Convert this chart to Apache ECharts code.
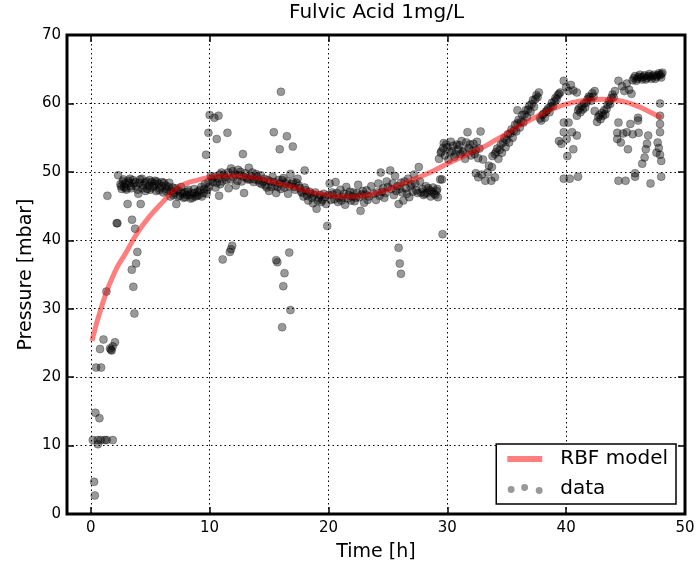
<!DOCTYPE html>
<html>
<head>
<meta charset="utf-8">
<script src="https://cdn.jsdelivr.net/npm/echarts@6/dist/echarts.min.js"></script>
<style>
  * { margin: 0; padding: 0; }
  body { background: #fff; }
</style>
</head>
<body>
<div id="chart" style="width: 697px; height: 562px;"></div>
<script>
// measured points [time h, pressure mbar]
var obsPoints = [
  [0.28,4.7],[0.34,2.7],[0.17,10.8],[0.59,10.8],[0.84,10.8],[1.18,10.8],[1.34,10.8],[1.85,10.8],[0.6,10.2],
  [0.39,14.8],[0.73,14.0],[0.45,21.4],[0.87,21.4],[1.07,25.5],[0.78,24.1],[1.62,24.2],[2.04,25.1],[1.76,23.9],
  [1.85,24.5],[1.7,24.0],[1.32,32.5],[3.67,29.3],[3.58,33.2],[3.45,35.7],[3.81,36.6],[3.92,38.3],[3.73,41.7],
  [3.47,43.0],[2.18,42.5],[2.24,42.5],[1.4,46.5],
  [2.3,49.5],[2.5,48.2],[2.6,47.5],[2.7,48.6],[2.8,47.8],[2.9,48.3],[3.0,47.4],[3.1,45.3],[3.2,48.4],[3.3,49.0],
  [3.4,47.6],[3.6,48.3],[3.8,47.9],[4.0,46.8],[4.1,48.4],[4.2,45.3],[4.3,49.0],[4.4,48.0],
  [4.6,47.2],[4.7,48.6],[4.9,48.0],[5.0,47.4],[5.1,48.5],[5.3,47.9],[5.4,48.7],[5.5,47.2],[5.7,48.3],[5.8,47.6],
  [6.0,48.5],[6.1,47.0],[6.3,48.0],[6.4,47.5],[6.6,48.4],[6.7,46.4],[6.9,47.7],[7.0,46.9],[7.2,45.3],[7.3,47.3],
  [7.5,46.5],[7.6,47.8],[7.8,46.2],[7.9,47.0],[8.1,46.6],[8.2,47.4],[8.4,46.1],[8.5,46.9],[8.7,47.5],[8.8,46.4],
  [9.0,47.1],[9.1,46.6],[9.3,47.8],[9.5,46.9],[9.6,48.2],[9.8,47.4],[9.9,48.5],
  [2.55,47.9],[2.75,48.9],[2.95,47.6],[3.15,48.7],[3.35,47.9],[3.55,48.8],[3.75,48.5],[3.95,47.4],[4.15,48.9],
  [4.35,47.6],[4.55,48.4],[4.75,47.5],[4.95,48.8],[5.15,47.7],[5.35,48.3],[5.55,48.6],[5.75,47.3],[5.95,47.9],
  [6.15,48.4],[6.35,47.2],[6.55,47.8],[6.75,47.2],[6.95,46.6],[7.15,47.6],[7.35,46.4],[7.55,47.1],[7.75,46.8],
  [7.95,46.3],[8.15,47.1],[8.35,46.6],[8.55,46.2],[8.75,46.9],[8.95,46.5],[9.15,47.3],[9.35,46.4],[9.55,47.5],
  [9.75,46.8],[9.95,47.8],
  [9.7,52.5],[9.9,55.7],[10.0,58.3],[10.4,57.9],[10.75,58.2],[10.6,54.8],[11.5,55.7],[12.8,52.6],
  [11.1,37.2],[11.8,38.7],[11.9,39.2],[11.7,38.3],
  [10.1,49.4],[10.3,48.5],[10.5,47.7],[10.7,49.0],[10.8,46.5],[10.9,48.2],[11.0,49.9],[11.2,49.6],[11.4,48.8],
  [11.6,47.6],[11.8,50.5],[12.0,49.2],[12.2,48.0],[12.4,50.3],[12.5,49.5],[12.7,48.6],[12.9,46.9],[13.0,49.8],
  [13.2,48.9],[13.3,50.6],[13.5,49.4],[13.7,48.5],[13.9,49.7],[14.1,48.8],[14.3,49.5],
  [10.2,48.9],[10.4,49.3],[10.6,48.4],[10.85,49.6],[11.05,48.6],[11.3,49.2],[11.55,49.9],[11.75,48.9],[11.95,50.1],
  [12.15,49.6],[12.35,48.7],[12.6,50.0],[12.85,49.3],[13.1,49.1],[13.4,48.9],[13.6,49.9],[13.8,48.9],[14.0,49.3],
  [14.2,48.4],
  [14.4,48.2],[14.6,49.0],[14.8,47.7],[15.0,47.2],[15.1,48.6],[15.3,49.3],[15.5,48.0],[15.6,46.9],[15.8,48.8],
  [16.0,47.5],[16.2,49.1],[16.4,48.3],[16.6,46.8],[16.8,49.7],[17.0,48.5],[17.2,47.4],[17.4,49.0],[17.5,48.0],
  [17.7,47.1],[17.9,46.4],[18.1,47.3],[18.3,45.8],[18.5,46.8],[18.7,45.4],[18.9,47.0],[19.0,44.6],[19.2,46.2],
  [19.4,45.6],[19.6,46.8],[19.8,45.3],[19.9,42.1],
  [14.5,48.6],[14.7,48.0],[14.9,48.8],[15.2,47.8],[15.4,48.5],[15.7,47.8],[15.9,48.3],[16.1,48.8],[16.3,47.7],
  [16.5,48.6],[16.7,47.9],[16.9,48.2],[17.1,47.8],[17.3,48.4],[17.6,47.6],[17.8,46.9],[18.0,47.7],[18.2,46.5],
  [18.4,47.1],[18.6,46.2],[18.8,46.6],[19.1,45.8],[19.3,46.6],[19.5,45.9],[19.7,46.3],
  [15.4,55.8],[15.9,53.3],[16.0,61.7],[16.5,55.2],[17.0,53.7],[18.0,50.2],[15.6,37.1],[15.7,36.8],[16.7,38.2],
  [16.3,35.2],[16.2,33.3],[16.8,29.8],[16.1,27.3],
  [20.1,48.3],[20.3,47.0],[20.5,46.0],[20.6,48.5],[20.8,45.6],[21.0,47.4],[21.2,46.3],[21.4,45.2],[21.5,47.8],
  [21.7,46.6],[21.9,45.8],[22.1,47.0],[22.3,46.2],[22.5,48.1],[22.7,44.3],[22.8,46.7],[23.0,45.5],[23.2,47.3],
  [23.4,46.4],
  [20.0,46.6],[20.2,45.9],[20.4,46.7],[20.7,46.9],[20.9,46.2],[21.1,45.8],[21.3,46.8],[21.6,46.1],[21.8,47.1],
  [22.0,46.4],[22.2,45.7],[22.4,46.9],[22.6,46.3],[22.9,47.2],[23.1,46.7],[23.3,45.9],
  [23.6,47.9],[23.8,46.8],[24.0,45.9],[24.2,48.3],[24.4,49.9],[24.5,47.1],[24.7,46.2],[24.9,48.6],[25.2,50.2],
  [25.3,47.5],[25.5,46.6],[25.6,49.4],[25.8,47.9],[25.9,45.3],[26.1,48.4],[26.3,45.8],[26.5,47.6],[26.7,49.0],
  [26.8,46.3],[27.0,48.2],[27.2,49.6],[27.4,47.3],[27.6,50.7],[27.7,48.6],
  [24.1,47.0],[24.3,46.5],[24.6,47.6],[24.8,46.9],[25.0,47.8],[25.4,48.3],[25.7,47.2],[26.0,47.5],[26.2,47.0],
  [26.4,48.6],[26.6,46.8],[26.9,47.9],[27.1,47.1],[27.3,48.3],[27.5,46.9],
  [25.9,38.9],[26.0,36.6],[26.1,35.1],
  [27.9,47.5],[28.0,46.6],[28.2,47.9],[28.3,46.9],[28.5,47.3],[28.6,46.4],[28.8,47.7],[28.9,46.8],[29.1,47.2],
  [29.2,46.3],[29.4,48.9],[29.55,48.9],[29.6,40.9],
  [27.8,47.0],[28.1,46.8],[28.4,47.6],[28.7,47.1],[29.0,46.6],[29.15,47.5],
  [29.3,51.9],[29.5,53.0],[29.7,54.2],[29.8,52.4],[30.0,53.6],[30.1,51.8],[30.3,54.4],[30.4,53.0],[30.6,52.2],
  [30.8,54.0],[30.9,53.3],[31.1,52.6],[31.2,54.5],[31.4,53.1],[31.5,51.9],[31.7,55.8],[31.8,53.5],[32.0,52.4],
  [32.2,54.1],[32.4,53.2],[32.6,52.0],[32.8,55.9],[32.4,49.8],[32.6,49.2],[32.9,49.6],
  [29.45,52.8],[29.65,53.5],[29.9,54.0],[30.2,52.9],[30.5,53.8],[30.7,52.6],[31.0,53.9],[31.3,52.9],[31.6,54.3],
  [31.9,54.0],[32.1,53.0],[32.3,52.6],[32.5,54.4],[32.7,53.4],
  [33.0,51.8],[33.2,48.7],[33.4,49.9],[33.5,50.9],[33.7,48.7],[33.75,50.7],[33.8,52.3],[34.0,49.2],
  [34.0,52.6],[34.2,53.4],[34.3,51.9],[34.5,54.0],[34.6,52.8],[34.8,54.9],[34.9,53.6],[35.1,55.5],[35.2,54.3],
  [35.4,56.2],[35.5,55.0],[35.7,56.9],[35.8,55.9],[35.9,59.0],[36.0,57.6],[36.1,56.5],[36.3,58.3],[36.4,57.2],
  [36.6,59.0],[36.7,58.0],[36.9,59.7],[37.0,58.8],[37.2,60.5],[37.3,59.5],[37.5,61.2],[37.7,61.6],[37.8,57.8],
  [34.1,52.9],[34.4,53.2],[34.7,54.3],[35.0,54.7],[35.3,55.6],[35.6,56.0],[35.9,57.1],[36.2,57.3],[36.5,58.4],
  [36.8,59.1],[37.1,59.9],[37.4,60.6],[37.6,60.9],
  [37.9,57.5],[38.0,58.3],[38.2,57.9],[38.3,58.8],[38.5,59.3],[38.6,58.7],[38.8,60.1],[38.9,59.6],[39.1,60.8],
  [39.3,61.2],[39.5,61.6],
  [38.1,58.5],[38.4,59.0],[38.7,59.6],[39.0,60.3],[39.2,60.6],[39.4,61.4],
  [39.8,63.3],[40.0,62.4],[40.2,61.8],[40.4,62.7],[40.6,61.9],[40.9,61.6],
  [39.4,54.5],[39.6,54.1],[39.8,57.2],[39.8,55.8],[40.05,54.8],[40.2,57.2],[40.5,55.8],[40.6,53.3],[40.9,55.3],
  [40.1,52.3],[39.8,49.0],[40.3,49.0],[41.0,49.3],
  [40.9,58.2],[41.0,59.0],[41.2,58.7],[41.3,59.6],[41.5,60.0],[41.6,59.4],[41.8,60.6],[41.9,61.0],[42.1,60.4],
  [42.2,61.5],[42.4,61.8],[42.4,58.9],
  [41.1,59.3],[41.4,59.1],[41.7,60.1],[42.0,60.9],[42.3,61.0],
  [42.6,57.3],[42.7,58.0],[42.9,57.7],[43.0,58.6],[43.2,59.0],[43.3,58.4],[43.5,59.8],[43.6,60.3],[43.8,60.8],
  [43.9,61.3],[44.1,61.8],
  [42.8,58.3],[43.1,58.2],[43.4,59.2],[43.7,59.9],[44.0,60.9],
  [44.4,63.3],[44.7,62.5],[44.9,61.8],[45.1,62.9],[45.3,62.0],[45.5,61.4],
  [45.6,63.4],[45.8,64.0],[46.0,63.6],[46.2,64.2],[46.4,63.5],[46.6,64.1],[46.8,63.7],[47.0,64.3],[47.2,63.6],
  [47.4,64.2],[47.6,63.9],[47.8,64.4],[47.9,64.1],[48.0,63.8],[48.1,64.5],
  [45.7,63.7],[45.9,63.3],[46.1,63.9],[46.3,63.8],[46.5,63.9],[46.7,63.5],[46.9,64.0],[47.1,63.9],[47.3,64.0],
  [47.5,63.6],[47.7,64.1],[48.0,64.3],
  [44.3,55.7],[44.4,57.2],[44.3,54.8],[44.6,54.3],[44.8,55.6],[45.1,55.8],[45.2,53.3],[45.4,57.0],[45.6,55.5],
  [46.05,57.9],[46.05,57.5],[46.1,55.7],[46.4,51.2],[46.6,52.1],[46.7,53.3],[46.8,54.1],[46.9,55.3],
  [45.8,49.8],[45.8,49.3],[47.1,48.3],[48.0,49.3],[44.4,48.7],[45.0,48.7],
  [47.9,60.0],[47.9,58.2],[47.9,57.0],[47.9,55.8],[47.8,53.5],[47.6,52.8],[47.9,52.5],[48.0,51.6],[47.7,54.3]
];

// RBF model curve
var modelTime = [0.1,1,2,3,4,5,6,7,8,9,10,11,12,13,14,15,16,17,18,19,20,21,22,23,24,25,
  26,27,28,29,30,31,32,33,34,35,36,37,38,39,40,41,42,43,44,45,46,47,48];
var modelPressure = [25.3,30.8,35.3,38.3,41.3,43.6,45.5,47.3,48.3,48.8,49.2,49.4,49.4,49.3,49.1,48.7,
  48.2,47.8,47.3,46.9,46.6,46.4,46.4,46.5,46.9,47.4,48.1,48.8,49.5,50.3,51.2,52.0,52.8,53.6,54.6,55.6,
  56.7,57.6,58.5,59.3,59.9,60.3,60.5,60.6,60.5,60.2,59.6,58.8,57.9];

var xTicks = [0, 10, 20, 30, 40, 50];

var font = 'DejaVu Sans';
var chart = echarts.init(document.getElementById('chart'));

var modelLine = [];
for (var i = 0; i < modelTime.length; i++) {
  modelLine.push([modelTime[i], modelPressure[i]]);
}

var gridLine = { show: true, lineStyle: { color: '#000', width: 1, type: [1.5, 3] } };
var tickIn = { show: true, inside: true, length: 7, lineStyle: { color: '#000', width: 1.5 } };

chart.setOption({
  animation: false,
  backgroundColor: '#fff',
  title: {
    text: 'Fulvic Acid 1mg/L',
    left: 289,
    top: 3,
    padding: 0,
    textStyle: { fontFamily: font, fontSize: 20, fontWeight: 'normal', color: '#000' }
  },
  grid: {
    left: 67, right: 12, top: 35, bottom: 48,
    outerBoundsMode: 'none',
    show: true, borderColor: '#000', borderWidth: 3
  },
  legend: {
    orient: 'vertical',
    right: 21,
    bottom: 58,
    padding: [5, 8, 5, 11],
    itemGap: 10,
    itemWidth: 48,
    itemHeight: 10,
    backgroundColor: '#fff',
    borderColor: '#000',
    borderWidth: 1.5,
    borderRadius: 0,
    textStyle: { fontFamily: font, fontSize: 20, color: '#000' },
    data: [
      { name: 'RBF model', icon: 'path://M0,0M48,10M0,2h35v6h-35z',
        itemStyle: { color: 'rgba(255,0,0,0.5)', borderWidth: 0 }, lineStyle: { width: 0 } },
      { name: 'data',
        icon: 'path://M0,0M48,10M0.2,5.6a3.5,3.5 0 1,0 7,0a3.5,3.5 0 1,0 -7,0M13.8,3.6a3.5,3.5 0 1,0 7,0a3.5,3.5 0 1,0 -7,0M28.5,6.6a3.5,3.5 0 1,0 7,0a3.5,3.5 0 1,0 -7,0',
        itemStyle: { color: 'rgba(0,0,0,0.4)', borderWidth: 0 } }
    ]
  },
  xAxis: [{
    type: 'value', min: -2, max: 50,
    name: 'Time [h]', nameLocation: 'middle', nameGap: 29,
    nameTextStyle: { fontFamily: font, fontSize: 19, color: '#000' },
    axisLine: { show: false, onZero: false },
    axisTick: { show: true, inside: true, length: 7, customValues: xTicks, lineStyle: { color: '#000', width: 1.5 } },
    axisLabel: { customValues: xTicks, margin: 7, fontFamily: font, fontSize: 15, color: '#000' },
    splitLine: gridLine
  }, {
    type: 'value', min: -2, max: 50, position: 'top',
    axisLine: { show: false, onZero: false },
    axisTick: { show: true, inside: true, length: 7, customValues: xTicks, lineStyle: { color: '#000', width: 1.5 } },
    axisLabel: { show: false, customValues: xTicks },
    splitLine: { show: false }
  }],
  yAxis: [{
    type: 'value', min: 0, max: 70, interval: 10,
    name: 'Pressure [mbar]', nameLocation: 'middle', nameGap: 31, nameMoveOverlap: false,
    nameTextStyle: { fontFamily: font, fontSize: 19, color: '#000' },
    axisLine: { show: false, onZero: false },
    axisTick: tickIn,
    axisLabel: { margin: 6, fontFamily: font, fontSize: 15, color: '#000' },
    splitLine: gridLine
  }, {
    type: 'value', min: 0, max: 70, interval: 10, position: 'right',
    axisLine: { show: false, onZero: false },
    axisTick: tickIn,
    axisLabel: { show: false },
    splitLine: { show: false }
  }],
  series: [{
    name: 'data',
    type: 'scatter',
    xAxisIndex: 0, yAxisIndex: 0,
    symbolSize: 8,
    itemStyle: { color: 'rgba(0,0,0,0.4)', borderColor: 'rgba(0,0,0,0.35)', borderWidth: 0.8, opacity: 1 },
    data: obsPoints,
    z: 2
  }, {
    name: 'RBF model',
    type: 'line',
    xAxisIndex: 0, yAxisIndex: 0,
    smooth: true,
    showSymbol: false,
    lineStyle: { color: 'rgba(255,0,0,0.5)', width: 5 },
    itemStyle: { color: 'rgba(255,0,0,0.5)' },
    data: modelLine,
    z: 3
  }]
});
</script>
</body>
</html>
